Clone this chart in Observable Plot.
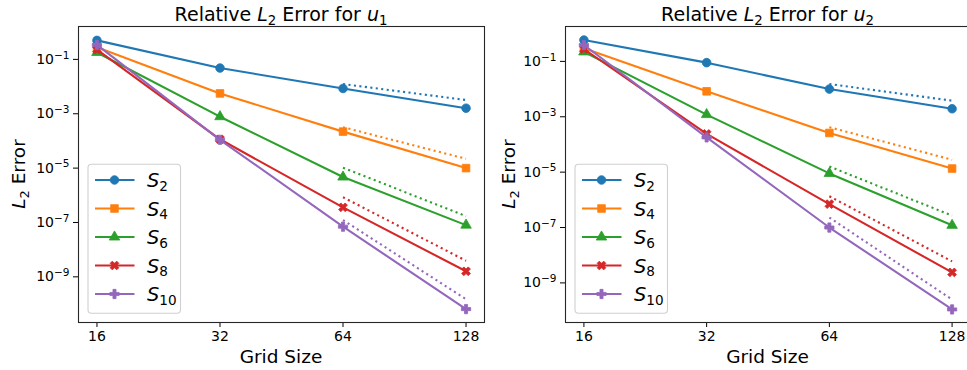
<!DOCTYPE html>
<html>
<head>
<meta charset="utf-8">
<script src="https://cdn.jsdelivr.net/npm/d3@7"></script>
<script src="https://cdn.jsdelivr.net/npm/@observablehq/plot@0.6"></script>
<style>
  body { margin: 0; background: #fff; }
  #fig { position: relative; width: 967px; height: 370px; overflow: hidden; background: #fff;
         font-family: "DejaVu Sans", sans-serif; }
  #fig > svg, #fig > figure { position: absolute; top: 0; margin: 0; }
</style>
</head>
<body>
<div id="fig"></div>
<script>
// Grid sizes on the x axis and the schemes compared
const gridSizes = [16, 32, 64, 128];
const refSizes = [64, 128];
const schemes = ["S2", "S4", "S6", "S8", "S10"];
const schemeOrders = ["2", "4", "6", "8", "10"];
const errorTicks = [1e-9, 1e-7, 1e-5, 1e-3, 1e-1];

// Relative L2 error of u1, one row per scheme (S2 … S10), columns = grid sizes
const u1Errors = [
  [0.50, 0.048, 8.5e-3, 1.6e-3],
  [0.28, 5.6e-3, 2.2e-4, 1.0e-5],
  [0.18, 7.8e-4, 4.7e-6, 8.0e-8],
  [0.23, 1.15e-4, 3.6e-7, 1.6e-9],
  [0.34, 1.1e-4, 7.0e-8, 6.5e-11]
];
// Expected-order guide lines for u1 between grid 64 and 128
const u1Guides = [
  [1.24e-2, 3.2e-3],
  [3.2e-4, 2.2e-5],
  [1.04e-5, 1.7e-7],
  [8.5e-7, 3.9e-9],
  [1.23e-7, 1.5e-10]
];

// Relative L2 error of u2
const u2Errors = [
  [0.59, 0.090, 0.010, 1.95e-3],
  [0.30, 8.3e-3, 2.6e-4, 1.35e-5],
  [0.22, 1.2e-3, 9.0e-6, 1.2e-7],
  [0.28, 2.4e-4, 7.0e-7, 2.4e-9],
  [0.39, 1.8e-4, 1.0e-7, 1.1e-10]
];
const u2Guides = [
  [1.53e-2, 3.8e-3],
  [4.2e-4, 2.8e-5],
  [1.6e-5, 2.7e-7],
  [1.35e-6, 6.0e-9],
  [2.3e-7, 2.5e-10]
];

// Styling
const colors = ["#1f77b4", "#ff7f0e", "#2ca02c", "#d62728", "#9467bd"];
const symbols = ["circle", "square", "triangle", "cross", "cross"];
const rotations = [0, 0, 0, 45, 0];
const radii = [4.3, 4.3, 3.9, 3.9, 3.9];
const d3Symbols = { circle: d3.symbolCircle, square: d3.symbolSquare, triangle: d3.symbolTriangle, cross: d3.symbolCross };

const exponent = d => String(Math.round(Math.log10(d))).replace("-", "\u2212");

function errorPanel(errors, guides, yDomain, width, marginLeft, marginRight) {
  const marks = [];
  schemes.forEach((s, i) => {
    const pts = gridSizes.map((n, j) => ({ n, err: errors[i][j] }));
    const ref = refSizes.map((n, j) => ({ n, err: guides[i][j] }));
    marks.push(Plot.line(pts, { x: "n", y: "err", stroke: colors[i], strokeWidth: 2.1 }));
    marks.push(Plot.dot(pts, { x: "n", y: "err", fill: colors[i], stroke: colors[i], strokeWidth: 0.8,
      symbol: symbols[i], r: radii[i], rotate: rotations[i] }));
    marks.push(Plot.line(ref, { x: "n", y: "err", stroke: colors[i], strokeWidth: 2.1,
      strokeDasharray: "2.1,3.4", strokeLinecap: "butt" }));
  });
  marks.push(Plot.frame({ stroke: "#262626", strokeWidth: 1.1 }));
  const svg = Plot.plot({
    width, height: 370,
    marginLeft, marginRight, marginTop: 26, marginBottom: 48,
    style: { fontFamily: "DejaVu Sans", fontSize: "14px", color: "#000", background: "transparent" },
    x: { type: "log", base: 2, domain: [2 ** 3.85, 2 ** 7.15], ticks: gridSizes, tickFormat: d => String(d),
         tickSize: 5, tickPadding: 4, label: null },
    y: { type: "log", domain: yDomain, ticks: errorTicks, tickFormat: d => "10|" + exponent(d),
         tickSize: 5, tickPadding: 4, label: null },
    marks
  });
  // render the powers of ten with a raised exponent
  d3.select(svg).selectAll("text").each(function () {
    const t = d3.select(this);
    const s = t.text();
    if (!s.includes("|")) return;
    const [base, exp] = s.split("|");
    t.text(null);
    t.append("tspan").text(base);
    t.append("tspan").attr("font-size", "10.5px").attr("dy", "-0.5em").text(exp);
  });
  return svg;
}

const fig = document.getElementById("fig");
const left = errorPanel(u1Errors, u1Guides, [10 ** -10.68, 10 ** 0.21], 490, 78, 6);
left.style.left = "0px";
fig.appendChild(left);
const right = errorPanel(u2Errors, u2Guides, [10 ** -10.43, 10 ** 0.26], 485, 75, 5);
right.style.left = "490px";
fig.appendChild(right);

// Text and legends
const overlay = d3.select(fig).append("svg")
  .attr("width", 967).attr("height", 370)
  .style("left", "0px")
  .attr("font-family", "DejaVu Sans").attr("fill", "#000");

function mathLabel(g, parts, size) {
  const t = g.append("text").attr("font-size", size);
  let shift = 0;
  for (const p of parts) {
    const s = t.append("tspan").text(p.t);
    if (p.italic) s.attr("font-style", "italic");
    const target = p.sub ? size * 0.2 : 0;
    if (p.sub) s.attr("font-size", size * 0.7);
    if (target !== shift) { s.attr("dy", target - shift); shift = target; }
  }
  return t;
}

const panels = [
  { axLeft: 78, axRight: 484, comp: "1" },
  { axLeft: 565, axRight: 970, comp: "2" }
];
panels.forEach((p, k) => {
  const cx = (p.axLeft + p.axRight) / 2;
  mathLabel(overlay, [{ t: "Relative " }, { t: "L", italic: true }, { t: "2", sub: true }, { t: " Error for " },
    { t: "u", italic: true }, { t: p.comp, sub: true }], 19)
    .attr("x", cx).attr("y", 21).attr("text-anchor", "middle");
  overlay.append("text").attr("x", cx).attr("y", 363).attr("text-anchor", "middle")
    .attr("font-size", 18.5).text("Grid Size");
  mathLabel(overlay, [{ t: "L", italic: true }, { t: "2", sub: true }, { t: " Error" }], 18.5)
    .attr("text-anchor", "middle")
    .attr("transform", `translate(${k === 0 ? 25 : 515},174) rotate(-90)`);

  // legend
  const bx = p.axLeft + 10, by = 164.3;
  const lg = overlay.append("g");
  lg.append("rect").attr("x", bx).attr("y", by).attr("width", 92.5).attr("height", 149)
    .attr("rx", 3.5).attr("fill", "#fff").attr("fill-opacity", 0.8)
    .attr("stroke", "#d0d0d0").attr("stroke-width", 1.1);
  schemes.forEach((s, i) => {
    const yy = 180 + i * 28.5;
    lg.append("line").attr("x1", bx + 7).attr("x2", bx + 46.5).attr("y1", yy).attr("y2", yy)
      .attr("stroke", colors[i]).attr("stroke-width", 2.1);
    lg.append("path")
      .attr("d", d3.symbol(d3Symbols[symbols[i]], Math.PI * radii[i] * radii[i])())
      .attr("transform", `translate(${bx + 26.5},${yy}) rotate(${rotations[i]})`)
      .attr("fill", colors[i]).attr("stroke", colors[i]).attr("stroke-width", 0.8);
    mathLabel(lg, [{ t: "S", italic: true }, { t: schemeOrders[i], sub: true }], 19.4)
      .attr("x", bx + 59).attr("y", yy + 7);
  });
});
</script>
</body>
</html>
